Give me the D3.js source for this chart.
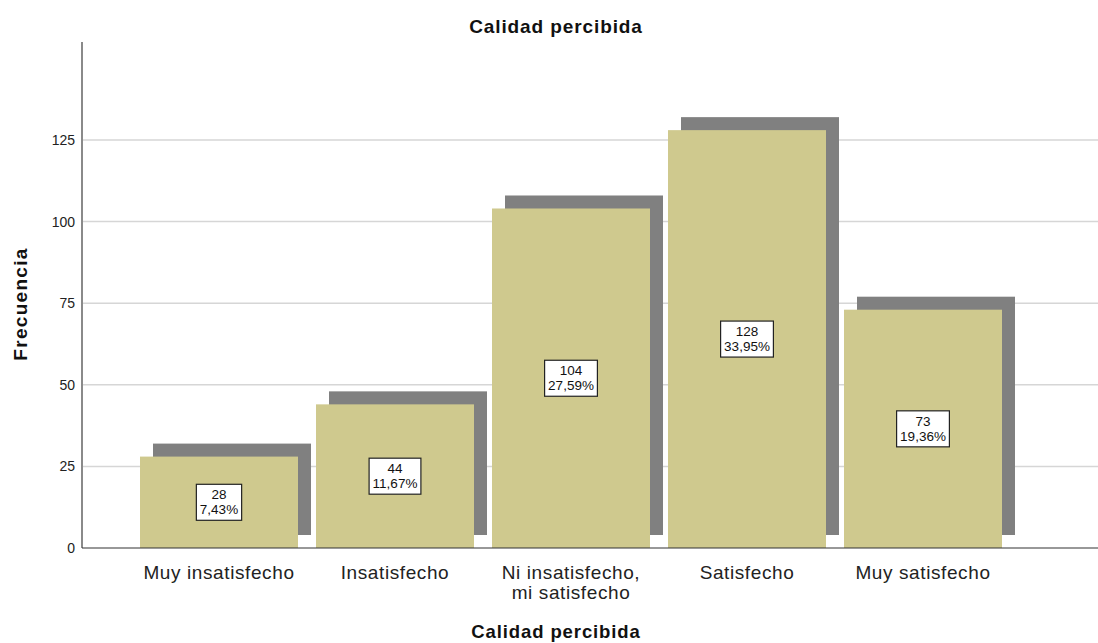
<!DOCTYPE html>
<html>
<head>
<meta charset="utf-8">
<title>Calidad percibida</title>
<script src="https://d3js.org/d3.v7.min.js"></script>
<style>
  body { margin: 0; background: #fff; }
  text { font-family: "Liberation Sans", Arial, sans-serif; }
</style>
</head>
<body>
<div id="chart"></div>
<script>
// data
var categories = ["Muy insatisfecho", "Insatisfecho", "Ni insatisfecho, mi satisfecho", "Satisfecho", "Muy satisfecho"];
var catLines = [["Muy insatisfecho"], ["Insatisfecho"], ["Ni insatisfecho,", "mi satisfecho"], ["Satisfecho"], ["Muy satisfecho"]];
var counts = [28, 44, 104, 128, 73];
var percents = ["7,43%", "11,67%", "27,59%", "33,95%", "19,36%"];
var yTicks = [0, 25, 50, 75, 100, 125];

var W = 1098, H = 643;
var x0 = 82, xEnd = 1098, yBase = 548, yTop = 42;
var shadow = 13;

var svg = d3.select("#chart").append("svg")
  .attr("width", W).attr("height", H);

var y = d3.scaleLinear().domain([0, 155]).range([yBase, yTop]);
var x = d3.scaleBand().domain(categories)
  .range([140, 1002]).paddingInner(0.1023).paddingOuter(0);

// gridlines
svg.append("g").selectAll("line")
  .data(yTicks.filter(function(d) { return d > 0; }))
  .join("line")
    .attr("x1", x0).attr("x2", xEnd)
    .attr("y1", function(d) { return y(d); })
    .attr("y2", function(d) { return y(d); })
    .attr("stroke", "#d6d6d6").attr("stroke-width", 1.5);

// y axis
var yAxis = svg.append("g")
  .attr("transform", "translate(" + x0 + ",0)")
  .call(d3.axisLeft(y).tickValues(yTicks).tickSize(0).tickPadding(7));
yAxis.select(".domain").remove();
yAxis.selectAll("text").attr("font-size", 14).attr("fill", "#222")
  .style("font-family", "'Liberation Sans', Arial, sans-serif");
svg.append("line")
  .attr("x1", x0).attr("x2", x0).attr("y1", yTop).attr("y2", yBase)
  .attr("stroke", "#8a8a8a").attr("stroke-width", 2);

// shadows
svg.append("g").selectAll("rect")
  .data(counts)
  .join("rect")
    .attr("x", function(d, i) { return x(categories[i]) + shadow; })
    .attr("y", function(d) { return y(d) - shadow; })
    .attr("width", x.bandwidth())
    .attr("height", function(d) { return yBase - y(d); })
    .attr("fill", "#808080");

// bars
svg.append("g").selectAll("rect")
  .data(counts)
  .join("rect")
    .attr("x", function(d, i) { return x(categories[i]); })
    .attr("y", function(d) { return y(d); })
    .attr("width", x.bandwidth())
    .attr("height", function(d) { return yBase - y(d); })
    .attr("fill", "#cfc98e");

// x baseline
svg.append("line")
  .attr("x1", x0).attr("x2", xEnd).attr("y1", yBase).attr("y2", yBase)
  .attr("stroke", "#333").attr("stroke-width", 1.2);

// value labels
var lab = svg.append("g").selectAll("g")
  .data(counts)
  .join("g")
    .attr("transform", function(d, i) {
      return "translate(" + (x(categories[i]) + x.bandwidth() / 2) + "," + ((y(d) + yBase) / 2) + ")";
    });
lab.each(function(d, i) {
  var g = d3.select(this);
  var box = g.append("rect").attr("fill", "#fff").attr("stroke", "#222").attr("stroke-width", 1.2);
  var t1 = g.append("text").attr("text-anchor", "middle").attr("y", -3)
    .attr("font-size", 13.5).attr("fill", "#111").text(d);
  var t2 = g.append("text").attr("text-anchor", "middle").attr("y", 12)
    .attr("font-size", 13.5).attr("fill", "#111").text(percents[i]);
  var w = Math.max(t1.node().getComputedTextLength(), t2.node().getComputedTextLength()) + 7;
  box.attr("x", -w / 2).attr("y", -18).attr("width", w).attr("height", 36);
});

// category labels
var cl = svg.append("g").selectAll("text")
  .data(catLines)
  .join("text")
    .attr("text-anchor", "middle")
    .attr("font-size", 19).attr("letter-spacing", 0.6).attr("fill", "#222")
    .attr("x", function(d, i) { return x(categories[i]) + x.bandwidth() / 2; })
    .attr("y", 579);
cl.selectAll("tspan")
  .data(function(d) { return d; })
  .join("tspan")
    .attr("x", function() { return d3.select(this.parentNode).attr("x"); })
    .attr("dy", function(d, j) { return j === 0 ? 0 : 20; })
    .text(function(d) { return d; });

// titles
svg.append("text").attr("x", 556).attr("y", 33).attr("text-anchor", "middle")
  .attr("font-size", 19).attr("letter-spacing", 0.9).attr("font-weight", "bold").attr("fill", "#111")
  .text("Calidad percibida");
svg.append("text").attr("x", 556).attr("y", 638).attr("text-anchor", "middle")
  .attr("font-size", 18.5).attr("letter-spacing", 0.9).attr("font-weight", "bold").attr("fill", "#111")
  .text("Calidad percibida");
svg.append("text")
  .attr("transform", "translate(27,304) rotate(-90)")
  .attr("text-anchor", "middle")
  .attr("font-size", 19).attr("letter-spacing", 1.3).attr("font-weight", "bold").attr("fill", "#111")
  .text("Frecuencia");
</script>
</body>
</html>
